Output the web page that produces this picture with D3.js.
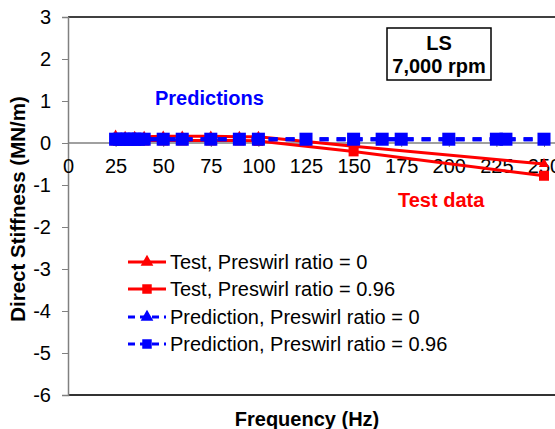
<!DOCTYPE html>
<html>
<head>
<meta charset="utf-8">
<script src="https://cdn.jsdelivr.net/npm/d3@7"></script>
<style>
  body { margin: 0; background: #fff; }
  svg { font-family: "Liberation Sans", Arial, sans-serif; }
</style>
</head>
<body>
<div id="chart"></div>
<script>
// data
const testFreq = [25, 30, 35, 40, 50, 60, 75, 90, 100, 150, 250];
const testPsr0 = [0.18, 0.15, 0.15, 0.15, 0.16, 0.16, 0.16, 0.15, 0.15, -0.08, -0.5];
const testPsr96 = [0.06, 0.06, 0.06, 0.06, 0.06, 0.06, 0.06, 0.06, 0.05, -0.2, -0.78];
const predFreq = [25, 27, 29, 31, 33, 35, 37, 40, 50, 60, 75, 90, 100, 125, 150, 165, 175, 200, 225, 230, 250];
const predPsr0 = [0.09, 0.09, 0.09, 0.09, 0.09, 0.09, 0.09, 0.09, 0.09, 0.09, 0.09, 0.09, 0.09, 0.09, 0.09, 0.09, 0.09, 0.09, 0.09, 0.09, 0.09];
const predPsr96 = [0.09, 0.09, 0.09, 0.09, 0.09, 0.09, 0.09, 0.09, 0.09, 0.09, 0.09, 0.09, 0.09, 0.09, 0.09, 0.09, 0.09, 0.09, 0.09, 0.09, 0.09];
const xTicks = [0, 25, 50, 75, 100, 125, 150, 175, 200, 225, 250];
const yTicks = [3, 2, 1, 0, -1, -2, -3, -4, -5, -6];
const legendLabels = [
  "Test, Preswirl ratio = 0",
  "Test, Preswirl ratio = 0.96",
  "Prediction, Preswirl ratio = 0",
  "Prediction, Preswirl ratio = 0.96"
];

const width = 555, height = 429;
const x = d3.scaleLinear().domain([0, 250]).range([68, 544]);
const y = d3.scaleLinear().domain([-6, 3]).range([395, 17]);

const svg = d3.select("#chart").append("svg")
  .attr("width", width).attr("height", height);

// frame
svg.append("line").attr("x1", 68).attr("x2", 560).attr("y1", y(3)).attr("y2", y(3))
  .attr("stroke", "#000").attr("stroke-width", 1.5);
svg.append("line").attr("x1", 68).attr("x2", 560).attr("y1", y(-6)).attr("y2", y(-6))
  .attr("stroke", "#333").attr("stroke-width", 2);

// y axis
const yAxis = d3.axisLeft(y).tickValues(yTicks).tickSize(6).tickPadding(11).tickFormat(d => String(d));
const gy = svg.append("g").attr("transform", "translate(68,0)").call(yAxis);
gy.select(".domain").attr("stroke", "#808080").attr("stroke-width", 1.5);
gy.selectAll(".tick line").attr("stroke", "#808080");
gy.selectAll("text").attr("font-size", 20).attr("fill", "#000");

// x axis on zero line
const xAxis = d3.axisBottom(x).tickValues(xTicks).tickSize(4).tickPadding(12).tickFormat(d => String(d));
const gx = svg.append("g").attr("transform", `translate(0,${y(0)})`).call(xAxis);
gx.select(".domain").attr("stroke", "#808080").attr("stroke-width", 1.5).attr("d", `M68,0H560`);
gx.selectAll(".tick line").attr("stroke", "#808080");
gx.selectAll("text").attr("font-size", 20).attr("fill", "#000");

// axis titles
svg.append("text").attr("transform", "translate(25,209) rotate(-90)")
  .attr("text-anchor", "middle").attr("font-size", 20.5).attr("font-weight", "bold")
  .text("Direct Stiffness (MN/m)");
svg.append("text").attr("x", 307).attr("y", 426)
  .attr("text-anchor", "middle").attr("font-size", 20).attr("font-weight", "bold")
  .text("Frequency (Hz)");

const line = d3.line().x(d => x(d[0])).y(d => y(d[1]));
const tri = d3.symbol().type(d3.symbolTriangle).size(45);
const sq = d3.symbol().type(d3.symbolSquare).size(100);
const sqBig = d3.symbol().type(d3.symbolSquare).size(170);

const series = [
  { f: testFreq, v: testPsr0, color: "#ff0000", dash: null, sym: tri, w: 3 },
  { f: testFreq, v: testPsr96, color: "#ff0000", dash: null, sym: sq, w: 3 },
  { f: predFreq, v: predPsr0, color: "#0000ff", dash: "9,8", sym: tri, w: 4 },
  { f: predFreq, v: predPsr96, color: "#0000ff", dash: "9,8", sym: sqBig, w: 4 }
];

series.forEach(s => {
  const pts = s.f.map((f, i) => [f, s.v[i]]);
  svg.append("path").datum(pts).attr("d", line)
    .attr("fill", "none").attr("stroke", s.color).attr("stroke-width", s.w)
    .attr("stroke-dasharray", s.dash);
  svg.append("g").selectAll("path").data(pts).join("path")
    .attr("transform", d => `translate(${x(d[0])},${y(d[1])})`)
    .attr("d", s.sym).attr("fill", s.color);
});

// annotations
svg.append("text").attr("x", 155).attr("y", 105).attr("font-size", 20)
  .attr("font-weight", "bold").attr("fill", "#0000ff").text("Predictions");
svg.append("text").attr("x", 398).attr("y", 207).attr("font-size", 20)
  .attr("font-weight", "bold").attr("fill", "#ff0000").text("Test data");

svg.append("rect").attr("x", 387).attr("y", 28).attr("width", 104).attr("height", 52)
  .attr("fill", "#fff").attr("stroke", "#000").attr("stroke-width", 1.5);
svg.append("text").attr("x", 439).attr("y", 50).attr("text-anchor", "middle")
  .attr("font-size", 20).attr("font-weight", "bold").text("LS");
svg.append("text").attr("x", 439).attr("y", 73).attr("text-anchor", "middle")
  .attr("font-size", 20).attr("font-weight", "bold").text("7,000 rpm");

// legend
const legendY = [262, 289, 317, 344];
const legendSym = [
  d3.symbol().type(d3.symbolTriangle).size(70),
  d3.symbol().type(d3.symbolSquare).size(90),
  d3.symbol().type(d3.symbolTriangle).size(70),
  d3.symbol().type(d3.symbolSquare).size(90)
];
const lg = svg.append("g");
legendLabels.forEach((lab, i) => {
  const s = series[i];
  lg.append("line").attr("x1", 128).attr("x2", 166).attr("y1", legendY[i]).attr("y2", legendY[i])
    .attr("stroke", s.color).attr("stroke-width", 3)
    .attr("stroke-dasharray", s.dash ? "7,5" : null);
  lg.append("path").attr("transform", `translate(147,${legendY[i]})`)
    .attr("d", legendSym[i]).attr("fill", s.color);
  lg.append("text").attr("x", 170).attr("y", legendY[i] + 7).attr("font-size", 20).text(lab);
});
</script>
</body>
</html>
